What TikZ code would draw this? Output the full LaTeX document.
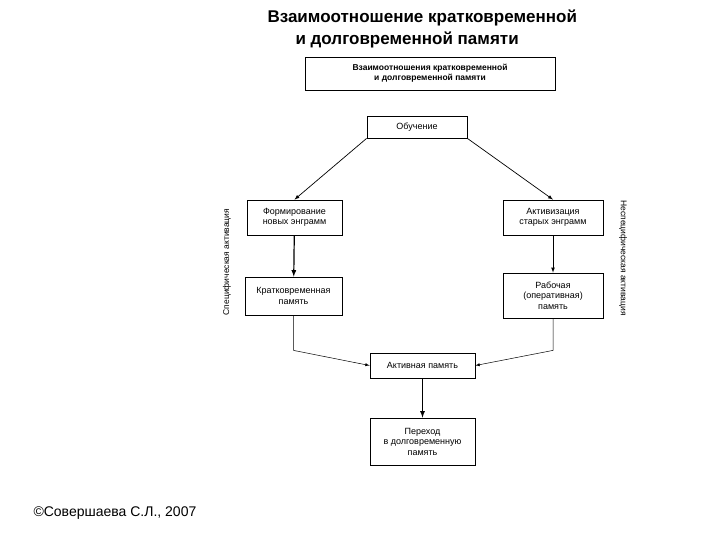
\documentclass[tikz,border=0pt]{standalone}
\usepackage{fontspec}
\setmainfont{Liberation Sans}
\begin{document}
\begin{tikzpicture}[x=1pt,y=-1pt,
  bx/.style={draw,line width=0.8pt,align=center,font=\fontsize{9}{10.5}\selectfont,inner sep=1pt},
  ar/.style={-latex,line width=0.7pt},
  ln/.style={line width=0.5pt}]
\useasboundingbox (0,0) rectangle (720,540);
\node[font=\bfseries\fontsize{17}{20}\selectfont,anchor=west] (t1) at (264,18) {Взаимоотношение кратковременной};
\node[font=\bfseries\fontsize{17}{20}\selectfont,anchor=west] (t2) at (292,40) {и долговременной памяти};
\node[bx,font=\bfseries\fontsize{8.5}{10}\selectfont,minimum width=250,minimum height=33] (top) at (430,73.5) {Взаимоотношения кратковременной\\и долговременной памяти};
\node[bx,minimum width=100,minimum height=22] (ob) at (417,127) {Обучение};
\node[bx,minimum width=95,minimum height=35] (form) at (294.5,217.5) {Формирование\\новых энграмм};
\node[bx,minimum width=100,minimum height=35] (akt) at (553,217.5) {Активизация\\старых энграмм};
\node[bx,minimum width=97,minimum height=38] (kr) at (293.5,296) {Кратковременная\\память};
\node[bx,minimum width=100,minimum height=45] (rab) at (553,295.5) {Рабочая\\(оперативная)\\память};
\node[bx,minimum width=105,minimum height=25] (am) at (422.5,365.5) {Активная память};
\node[bx,minimum width=105,minimum height=47] (per) at (422.5,441.5) {Переход\\в долговременную\\память};
\node[rotate=90,font=\fontsize{8.5}{10}\selectfont] (la) at (227,262) {Специфическая активация};
\node[rotate=-90,font=\fontsize{8.5}{10}\selectfont] (ra) at (623,258) {Неспецифическая активация};
\node[font=\fontsize{14}{16}\selectfont,anchor=west] (c) at (30,513) {©Совершаева С.Л., 2007};
\draw[ar] (ob.south west) -- (form.north);
\draw[ar] (ob.south east) -- (akt.north);
\draw[ar,line width=1.2pt] (form) -- (kr);
\draw[ar] (akt) -- (rab);
\draw[ln,-latex] (kr.south) -- ++(0,35) -- (am.west);
\draw[ln,-latex] (rab.south) -- ++(0,32) -- (am.east);
\draw[ar,line width=1.2pt] (am) -- (per);
\end{tikzpicture}
\end{document}
